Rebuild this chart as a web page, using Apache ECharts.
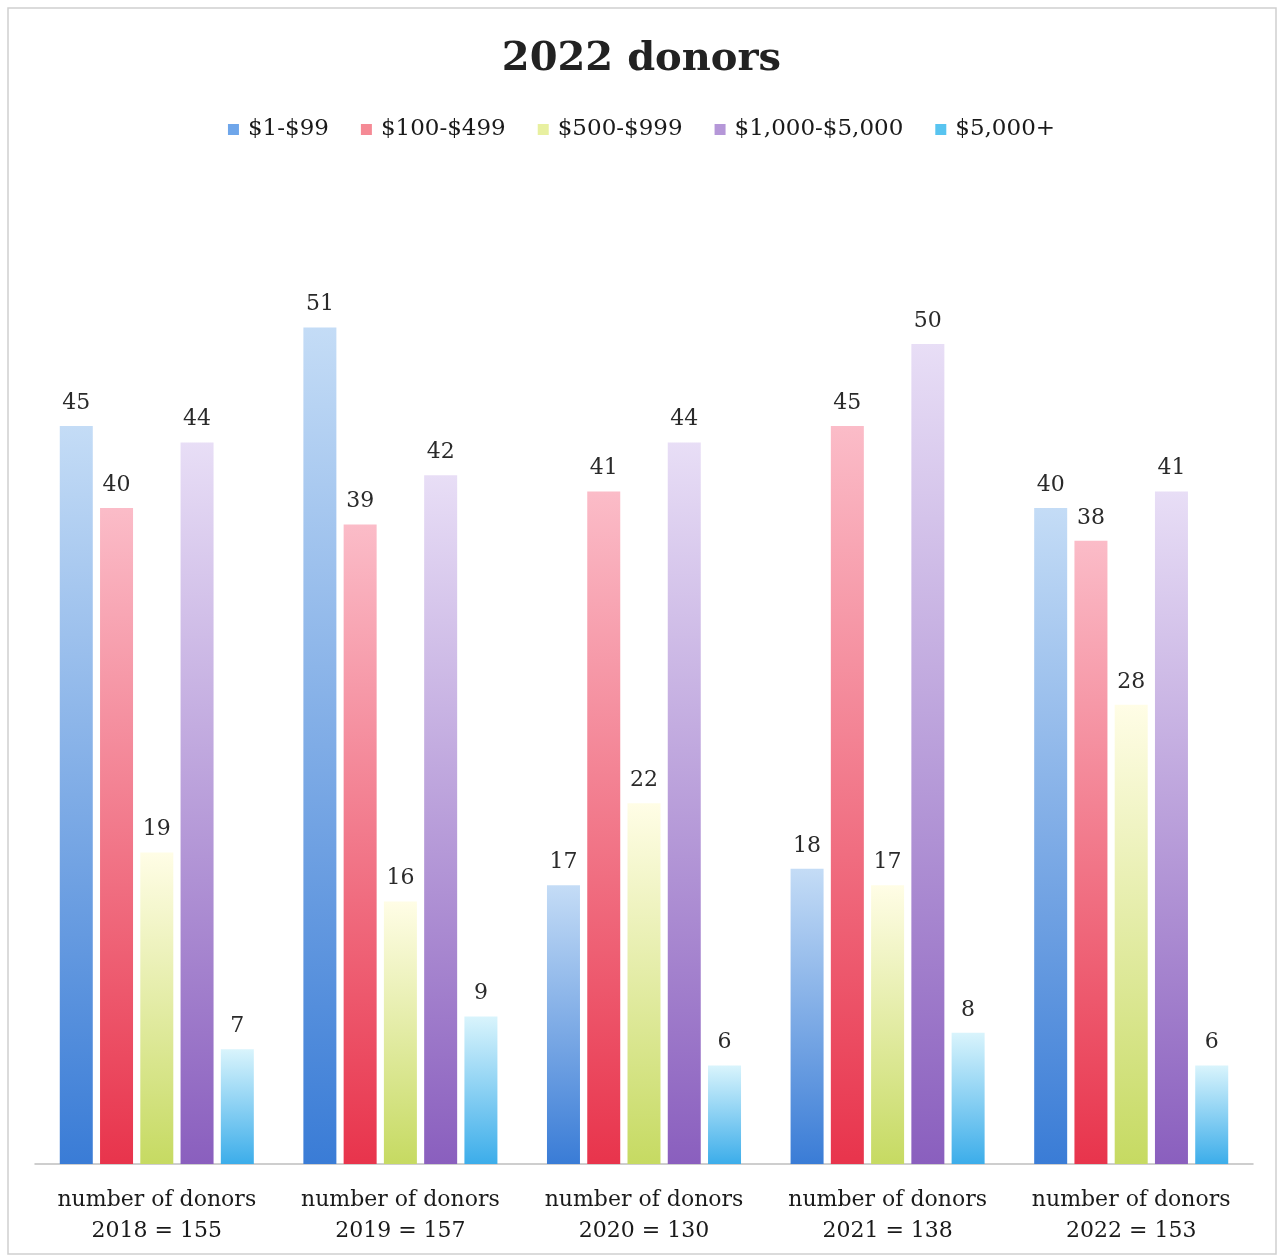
<!DOCTYPE html>
<html>
<head>
<meta charset="utf-8">
<script src="https://cdn.jsdelivr.net/npm/echarts@6/dist/echarts.min.js"></script>
<style>
html,body{margin:0;padding:0;background:#fff;}
#chart{width:1283px;height:1260px;}
</style>
</head>
<body>
<div id="chart"></div>
<script>
const categories = ['number of donors\n2018 = 155','number of donors\n2019 = 157','number of donors\n2020 = 130','number of donors\n2021 = 138','number of donors\n2022 = 153'];
const seriesNames = ['$1-$99','$100-$499','$500-$999','$1,000-$5,000','$5,000+'];
const tier1 = [45, 51, 17, 18, 40];
const tier2 = [40, 39, 41, 45, 38];
const tier3 = [19, 16, 22, 17, 28];
const tier4 = [44, 42, 44, 50, 41];
const tier5 = [7, 9, 6, 8, 6];
const values = [tier1, tier2, tier3, tier4, tier5];
const gradTop = ['#c4dcf6', '#fbbcc8', '#fffde6', '#e8def6', '#d9f4fc'];
const gradBottom = ['#3a7cd6', '#e8344c', '#c6da62', '#8a5fbe', '#3cadea'];
const legendColors = ['#6fa6ea', '#f58a95', '#e8f0a0', '#b597d8', '#58c4f0'];

const FONT = 'DejaVu Serif';
const chart = echarts.init(document.getElementById('chart'));
chart.setOption({
  backgroundColor: '#fff',
  textStyle: {fontFamily: FONT},
  title: {
    text: '2022 donors', left: 'center', top: 35,
    textStyle: {fontFamily: FONT, fontSize: 40, fontWeight: 'bold', color: '#222'}
  },
  legend: {
    top: 113, left: 'center', itemWidth: 11, itemHeight: 11, itemGap: 32,
    icon: 'rect',
    textStyle: {fontFamily: FONT, fontSize: 23, color: '#1a1a1a', padding: [0, 0, 0, 4]},
    data: seriesNames.map((n, i) => ({name: n, itemStyle: {color: legendColors[i]}}))
  },
  graphic: [{
    type: 'rect', shape: {x: 8, y: 8, width: 1268, height: 1246},
    style: {fill: 'none', stroke: '#d0d0d0', lineWidth: 1.5}, silent: true
  }],
  grid: {left: 35, right: 30, top: 180, bottom: 96},
  xAxis: {
    type: 'category', data: categories,
    axisLine: {lineStyle: {color: '#bfbfbf', width: 1.5}},
    axisTick: {show: false},
    axisLabel: {interval: 0, fontFamily: FONT, fontSize: 22, color: '#1a1a1a', lineHeight: 31, margin: 21}
  },
  yAxis: {type: 'value', min: 0, max: 60, show: false, splitLine: {show: false}},
  series: seriesNames.map((n, i) => ({
    name: n, type: 'bar', data: values[i], barWidth: 33, barGap: '22%',
    itemStyle: {
      color: new echarts.graphic.LinearGradient(0, 0, 0, 1, [
        {offset: 0, color: gradTop[i]}, {offset: 1, color: gradBottom[i]}
      ])
    },
    label: {show: true, position: 'top', distance: 12, fontFamily: FONT, fontSize: 22, color: '#2a2a2a'}
  }))
});
</script>
</body>
</html>
